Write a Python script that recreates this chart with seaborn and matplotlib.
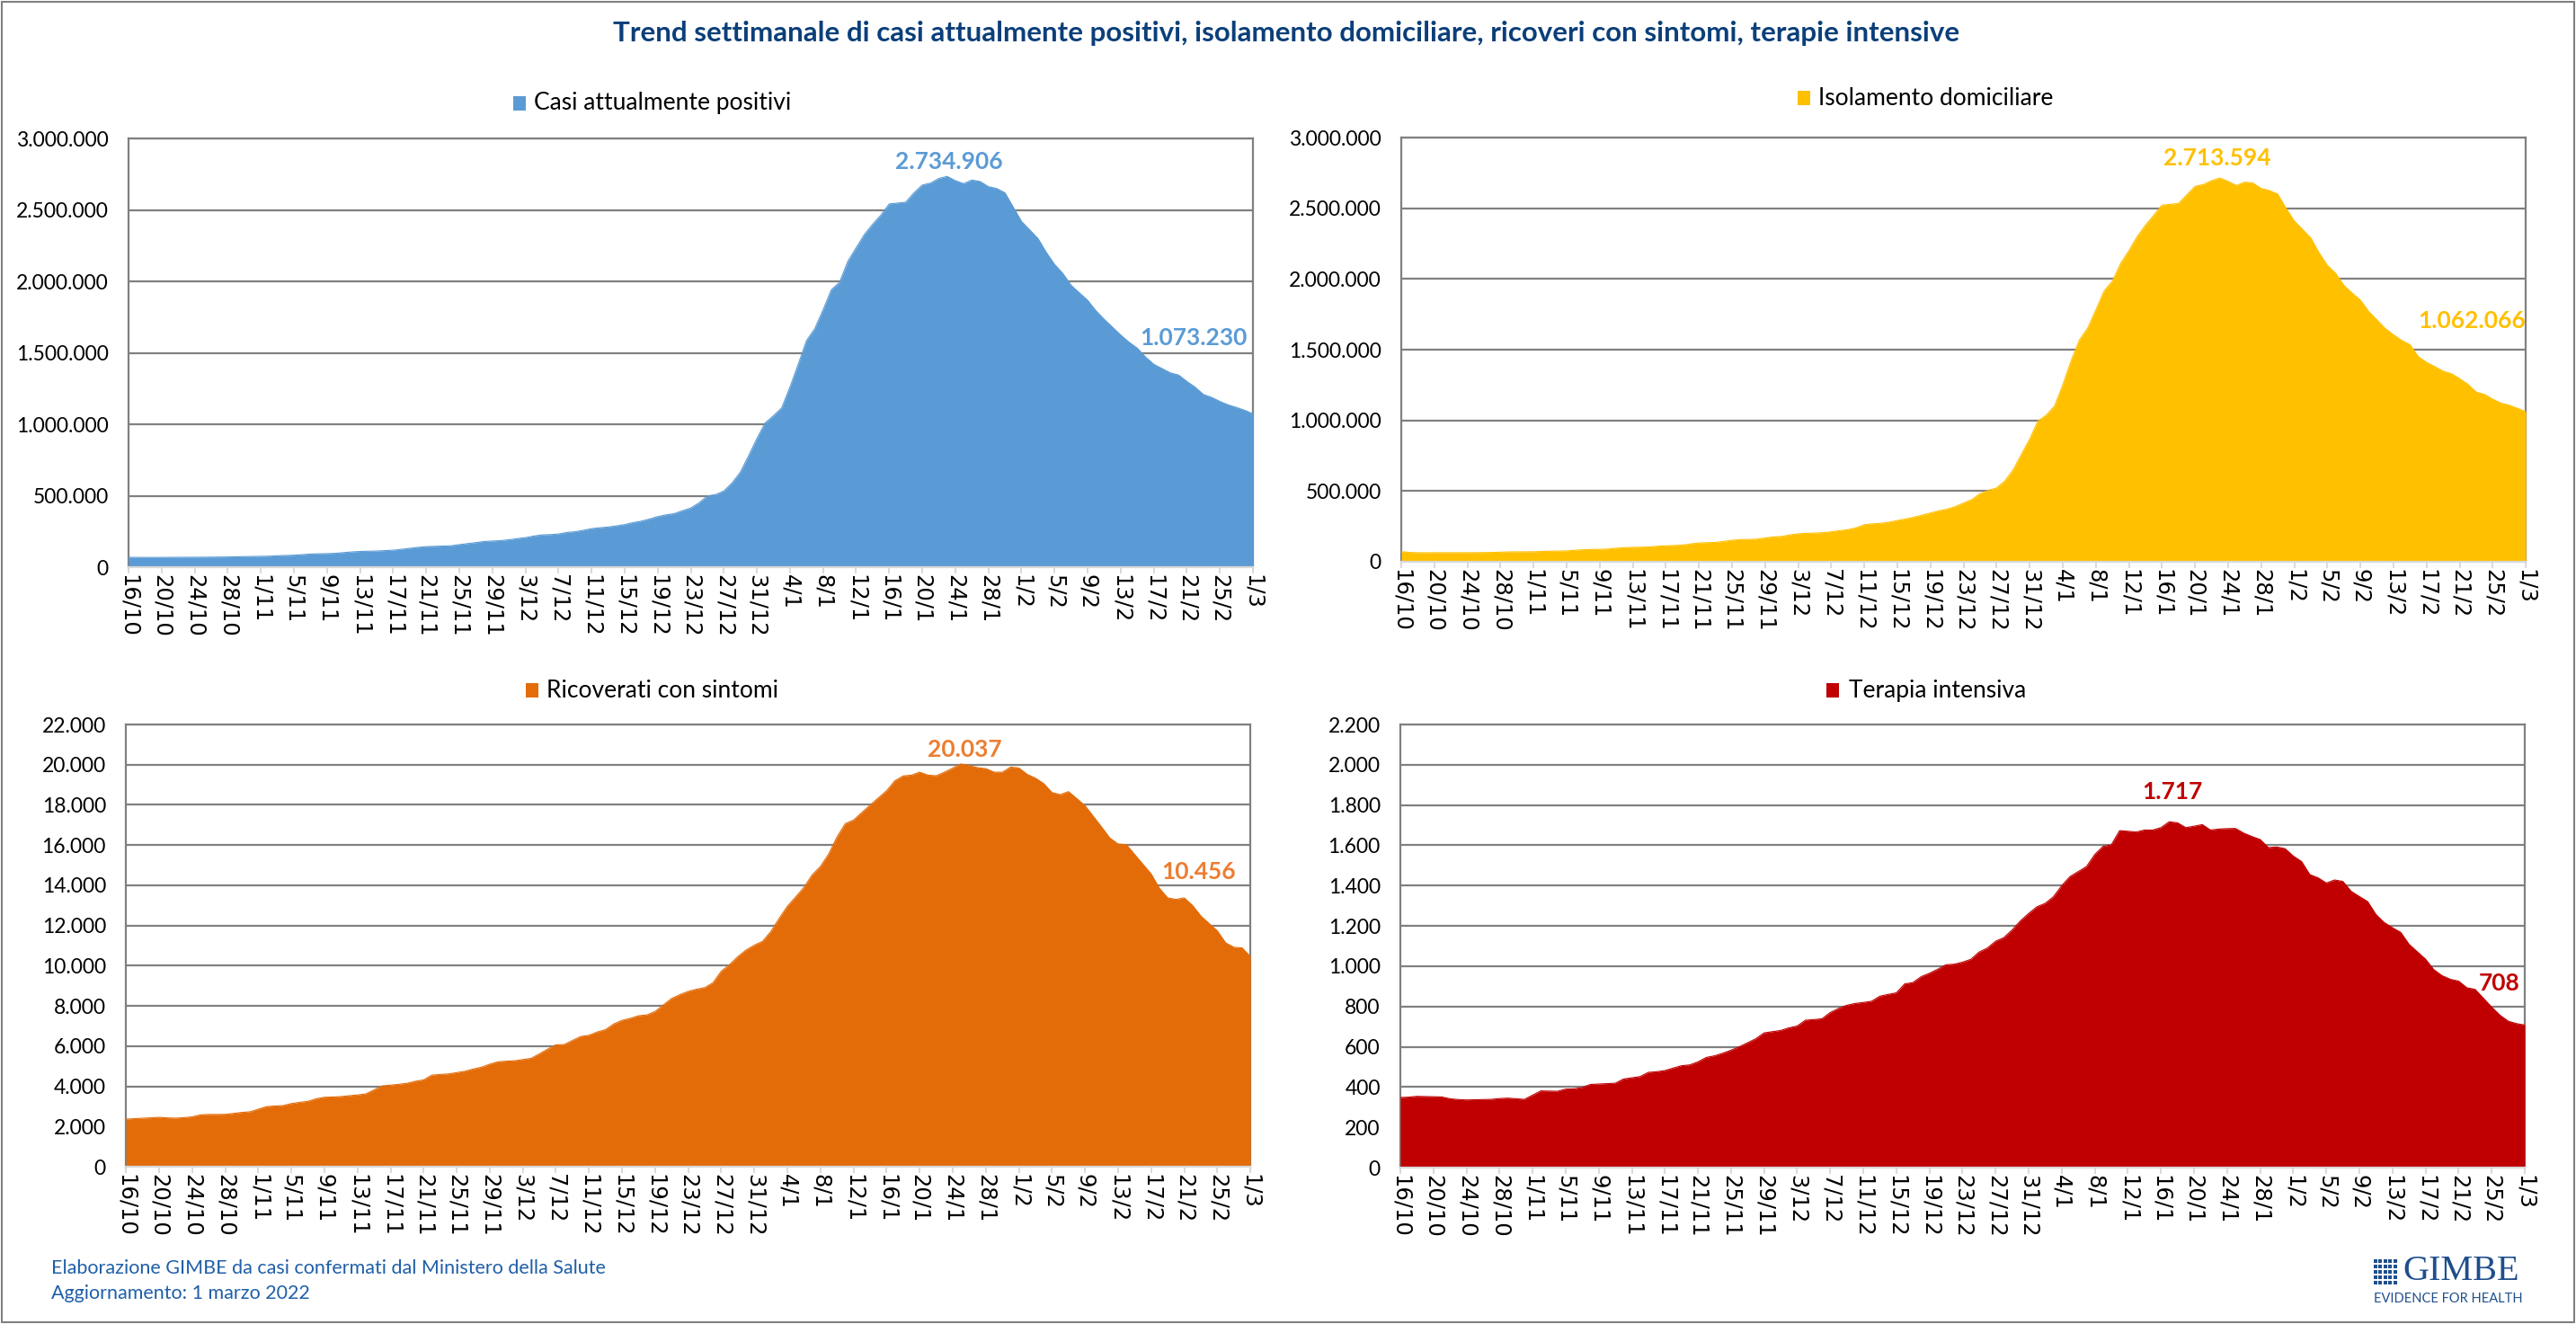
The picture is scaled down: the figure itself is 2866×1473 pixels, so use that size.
import matplotlib
matplotlib.use("Agg")
import matplotlib.pyplot as plt
from matplotlib.patches import Rectangle
from matplotlib.ticker import FuncFormatter, MultipleLocator
import seaborn as sns
import pandas as pd

# giorni dal 16/10/2021 al 1/3/2022, etichette ogni 4 giorni
date = pd.date_range("2021-10-16", "2022-03-01", freq="D")
tick_labels = [f"{d.day}/{d.month}" for d in date[::4]]

positivi = [
    69000, 68500, 68000, 68000, 68500, 69000, 69000, 69500, 69500, 70000,
    70500, 71000, 71500, 73000, 74000, 75000, 75500, 77000, 80000, 82000,
    84000, 88000, 92000, 94000, 95000, 97000, 102000, 107000, 110000, 112000,
    113000, 116000, 119000, 125000, 132000, 139000, 144000, 146000, 148000, 150000,
    158000, 165000, 172000, 180000, 183000, 186000, 192000, 200000, 207000, 218000,
    226000, 228000, 232000, 243000, 248000, 258000, 270000, 276000, 281000, 289000,
    298000, 312000, 322000, 337000, 354000, 366000, 375000, 395000, 414000, 450000,
    498000, 508000, 533000, 590000, 665000, 780000, 900000, 1010000, 1060000, 1115000,
    1260000, 1420000, 1586000, 1669000, 1800000, 1941000, 1994000, 2140000, 2235000, 2328000,
    2400000, 2464000, 2542000, 2548000, 2554000, 2620000, 2674000, 2688000, 2720000, 2734906,
    2705000, 2684000, 2709000, 2699000, 2663000, 2650000, 2620000, 2520000, 2420000, 2360000,
    2300000, 2203000, 2119000, 2056000, 1973000, 1920000, 1868000, 1795000, 1735000, 1680000,
    1625000, 1575000, 1533000, 1471000, 1420000, 1390000, 1360000, 1345000, 1300000, 1260000,
    1209000, 1188000, 1160000, 1136000, 1118000, 1098000, 1073230,
]

isolamento = [
    72000, 66000, 64000, 64000, 64000, 64000, 64000, 64000, 64500, 64500,
    65000, 66000, 68000, 70000, 70000, 70500, 71000, 73000, 75000, 76000,
    77000, 82000, 85000, 87000, 88000, 90000, 96000, 100000, 102000, 103000,
    105000, 110000, 113000, 115000, 118000, 126000, 133000, 135000, 137000, 144000,
    152000, 157000, 158000, 160000, 168000, 176000, 179000, 190000, 198000, 201000,
    203000, 206000, 212000, 220000, 227000, 240000, 262000, 268000, 272000, 280000,
    292000, 303000, 315000, 330000, 345000, 360000, 372000, 390000, 415000, 440000,
    482000, 505000, 522000, 572000, 650000, 760000, 868000, 995000, 1037000, 1101000,
    1250000, 1420000, 1567000, 1651000, 1780000, 1915000, 1985000, 2110000, 2200000, 2300000,
    2380000, 2450000, 2522000, 2528000, 2534000, 2595000, 2655000, 2668000, 2695000, 2713594,
    2690000, 2661000, 2685000, 2678000, 2640000, 2625000, 2600000, 2500000, 2410000, 2350000,
    2290000, 2185000, 2096000, 2040000, 1955000, 1900000, 1850000, 1770000, 1710000, 1650000,
    1605000, 1565000, 1535000, 1450000, 1410000, 1380000, 1348000, 1330000, 1295000, 1255000,
    1200000, 1184000, 1150000, 1122000, 1107000, 1085000, 1062066,
]

ricoverati = [
    2368, 2390, 2410, 2430, 2457, 2430, 2415, 2440, 2480, 2580,
    2600, 2600, 2606, 2650, 2700, 2730, 2860, 2990, 3020, 3040,
    3140, 3200, 3250, 3380, 3455, 3470, 3490, 3530, 3570, 3620,
    3820, 4020, 4060, 4100, 4150, 4250, 4320, 4557, 4590, 4616,
    4680, 4750, 4860, 4950, 5100, 5220, 5250, 5272, 5330, 5391,
    5614, 5850, 6061, 6076, 6280, 6478, 6538, 6700, 6820, 7100,
    7280, 7380, 7510, 7550, 7720, 8050, 8369, 8560, 8720, 8830,
    8906, 9150, 9725, 10050, 10450, 10780, 11020, 11214, 11700, 12350,
    12956, 13420, 13894, 14520, 14937, 15560, 16400, 17066, 17245, 17620,
    17990, 18350, 18704, 19200, 19440, 19479, 19628, 19479, 19449, 19628,
    19830, 20037, 19955, 19851, 19806, 19628, 19628, 19881, 19836, 19520,
    19330, 19062, 18615, 18511, 18660, 18317, 17960, 17430, 16900, 16351,
    16053, 16024, 15532, 15050, 14564, 13850, 13373, 13299, 13373, 13000,
    12479, 12100, 11735, 11139, 10916, 10886, 10456,
]

terapia_intensiva = [
    348, 350, 354, 353, 352, 351, 342, 338, 336, 337,
    338, 339, 343, 345, 342, 339, 360, 381, 380, 379,
    390, 391, 398, 413, 415, 417, 419, 440, 446, 452,
    473, 476, 482, 494, 506, 510, 525, 547, 555, 568,
    583, 600, 620, 640, 669, 675, 681, 694, 703, 732,
    735, 739, 770, 790, 806, 815, 820, 826, 851, 860,
    868, 912, 919, 948, 965, 985, 1007, 1010, 1020, 1034,
    1070, 1090, 1124, 1142, 1180, 1225, 1262, 1295, 1312, 1345,
    1400, 1445, 1470, 1495, 1555, 1595, 1603, 1673, 1670, 1666,
    1676, 1676, 1688, 1717, 1712, 1688, 1695, 1703, 1676, 1681,
    1683, 1684, 1661, 1644, 1629, 1589, 1592, 1584, 1547, 1520,
    1455, 1439, 1413, 1428, 1421, 1372, 1346, 1321, 1257, 1217,
    1191, 1168, 1109, 1072, 1035, 983, 953, 935, 926, 893,
    885, 841, 797, 757, 727, 715, 708,
]

serie = ["Casi attualmente positivi", "Isolamento domiciliare",
         "Ricoverati con sintomi", "Terapia intensiva"]

df = pd.DataFrame({
    "giorno": range(len(date)),
    serie[0]: positivi,
    serie[1]: isolamento,
    serie[2]: ricoverati,
    serie[3]: terapia_intensiva,
})

# colore area, colore etichetta, ymax, passo, rect assi, legenda (x quadrato, x testo, y), offset etichette (px)
pannelli = [
    dict(col="#5B9BD5", lab="#5B9BD5", ymax=3_000_000, step=500_000,
         rect=[0.0499, 0.5716, 0.4365, 0.3238], leg=(0.1992, 0.2073, 0.922),
         off_max=(2, 16), off_last=(-66, 84)),
    dict(col="#FFC000", lab="#FFC000", ymax=3_000_000, step=500_000,
         rect=[0.5440, 0.5757, 0.4365, 0.3204], leg=(0.6978, 0.7059, 0.926),
         off_max=(-3, 22), off_last=(-60, 101)),
    dict(col="#E36C09", lab="#ED7D31", ymax=22_000, step=2_000,
         rect=[0.0489, 0.1188, 0.4365, 0.3340], leg=(0.2041, 0.2121, 0.4786),
         off_max=(4, 16), off_last=(-58, 94)),
    dict(col="#C00000", lab="#C00000", ymax=2_200, step=200,
         rect=[0.5436, 0.1181, 0.4365, 0.3347], leg=(0.7090, 0.7177, 0.4786),
         off_max=(3, 33), off_last=(-28, 46)),
]

sns.set_theme(style="white")
plt.rcParams["font.family"] = ["Lato", "DejaVu Sans"]

GRIGIO = "#808080"
BLU = "#0B3F7A"


def punti(v, pos=None):
    return f"{int(round(v)):,}".replace(",", ".")


fig = plt.figure(figsize=(28.66, 14.73), dpi=100)
fig.patch.set_facecolor("white")

for nome, p in zip(serie, pannelli):
    ax = fig.add_axes(p["rect"])
    sns.lineplot(data=df, x="giorno", y=nome, ax=ax, color=p["col"], linewidth=0.8, zorder=3)
    ax.fill_between(df["giorno"], df[nome], color=p["col"], linewidth=0, zorder=3)

    ax.set_xlim(0, len(df) - 1)
    ax.set_ylim(0, p["ymax"])
    ax.yaxis.set_major_locator(MultipleLocator(p["step"]))
    ax.yaxis.set_major_formatter(FuncFormatter(punti))
    ax.set_xticks(df["giorno"][::4])
    ax.set_xticklabels(tick_labels, rotation=-90, family="DejaVu Sans", fontsize=17.5)
    ax.set_xlabel("")
    ax.set_ylabel("")

    ax.set_axisbelow(True)
    ax.grid(axis="y", color=GRIGIO, linewidth=1.6, zorder=0)
    ax.grid(axis="x", visible=False)
    for s in ["left", "top", "right"]:
        ax.spines[s].set_visible(True)
        ax.spines[s].set_color(GRIGIO)
        ax.spines[s].set_linewidth(1.6)
    ax.spines["bottom"].set_color("#D9D9D9")
    ax.spines["bottom"].set_linewidth(1.6)
    ax.spines["bottom"].set_zorder(4)
    ax.tick_params(axis="y", length=0, pad=16, labelsize=16.5, colors="black")
    ax.tick_params(axis="x", bottom=True, length=5, width=1.4, color="#D9D9D9", pad=1)
    ax.tick_params(axis="x", labelcolor="black")

    # etichette valore massimo e ultimo valore
    y = df[nome]
    imax = int(y.idxmax())
    ilast = len(y) - 1
    for i, off in [(imax, p["off_max"]), (ilast, p["off_last"])]:
        ax.annotate(punti(y[i]), xy=(i, y[i]), xytext=off, textcoords="offset pixels",
                    ha="center", va="center", fontsize=19, fontweight="bold",
                    color=p["lab"], zorder=5, annotation_clip=False)

    # legenda sopra il grafico
    qx, tx, ly = p["leg"]
    fig.add_artist(Rectangle((qx, ly - 0.0052), 0.0049, 0.0104, transform=fig.transFigure,
                             facecolor=p["col"], edgecolor="none"))
    fig.text(tx, ly, nome, ha="left", va="center", fontsize=19, color="black")

fig.text(0.4993, 0.975, "Trend settimanale di casi attualmente positivi, isolamento domiciliare, "
         "ricoveri con sintomi, terapie intensive",
         ha="center", va="center", fontsize=22.5, fontweight="bold", color=BLU)

fig.text(0.0199, 0.0421, "Elaborazione GIMBE da casi confermati dal Ministero della Salute",
         ha="left", va="center", fontsize=15.5, color="#1F5FA8")
fig.text(0.0199, 0.0231, "Aggiornamento: 1 marzo 2022",
         ha="left", va="center", fontsize=15.5, color="#1F5FA8")

# logo GIMBE
for r in range(5):
    for c in range(5):
        fig.add_artist(Rectangle((0.9215 + c * 0.0019, 0.0300 + r * 0.0040), 0.0013, 0.0028,
                                 transform=fig.transFigure, facecolor="#1F4E8C", edgecolor="none"))
fig.text(0.9328, 0.0400, "GIMBE", ha="left", va="center", fontsize=29,
         family=["Liberation Serif", "DejaVu Serif"], color="#1F4E8C")
fig.text(0.9214, 0.0188, "EVIDENCE FOR HEALTH", ha="left", va="center", fontsize=10.5,
         color="#1F4E8C")

# cornice esterna
fig.add_artist(Rectangle((0.0007, 0.0012), 0.9986, 0.9976, transform=fig.transFigure,
                         facecolor="none", edgecolor=GRIGIO, linewidth=1.5))

fig.savefig("out.png", dpi=100, facecolor="white")
